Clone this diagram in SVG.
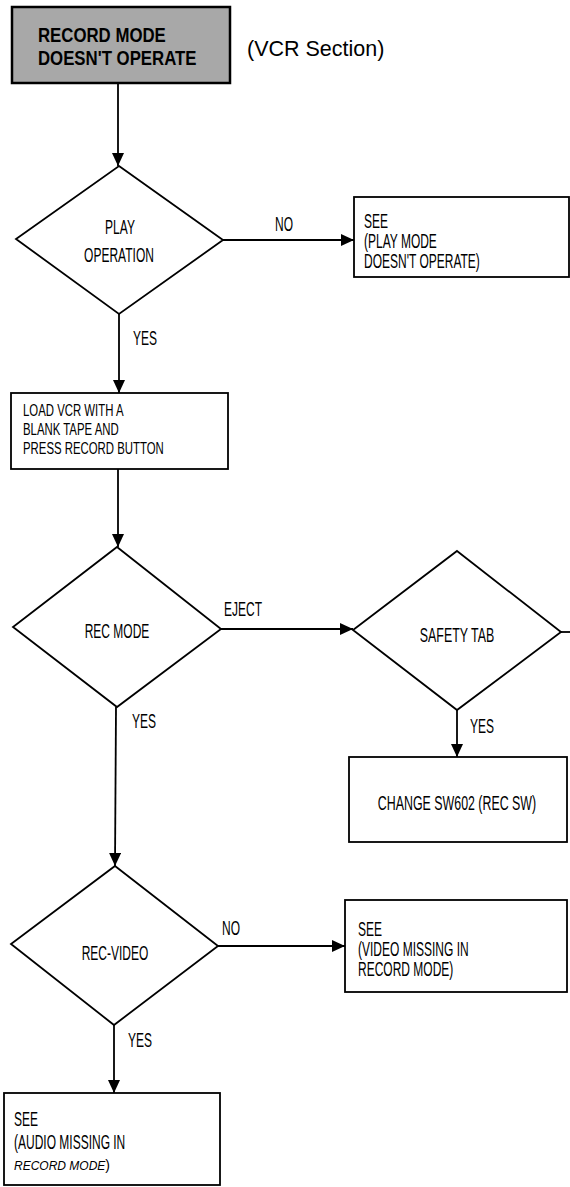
<svg xmlns="http://www.w3.org/2000/svg" width="570" height="1187" viewBox="0 0 570 1187">
<style>
.shape{fill:#fff;stroke:#000;stroke-width:1.8}
.title{fill:#a8a8a8;stroke:#000;stroke-width:2.5}
.t{font-family:"Liberation Sans",Arial,sans-serif;font-size:20px;fill:#000}
.ts{font-family:"Liberation Sans",Arial,sans-serif;font-size:17px;fill:#000}
.tb{font-family:"Liberation Sans",Arial,sans-serif;font-size:21px;font-weight:bold;fill:#000}
.ti{font-family:"Liberation Sans",Arial,sans-serif;font-size:12px;font-style:italic;fill:#000}
.sec{font-family:"Liberation Sans",Arial,sans-serif;font-size:21.5px;fill:#000}
.c{text-anchor:middle}
.conn{fill:none;stroke:#000;stroke-width:1.8}
</style>
<defs>
<marker id="arr" markerUnits="userSpaceOnUse" markerWidth="14" markerHeight="12" refX="13" refY="6" orient="auto">
<path d="M0,0 L13,6 L0,12 Z" fill="#000"/>
</marker>
</defs>
<g id="connectors">
<path class="conn" d="M118,83 V166" marker-end="url(#arr)"/>
<path class="conn" d="M223,240 H354" marker-end="url(#arr)"/>
<path class="conn" d="M119,314 V393" marker-end="url(#arr)"/>
<path class="conn" d="M118,469 V547" marker-end="url(#arr)"/>
<path class="conn" d="M221,629 H353" marker-end="url(#arr)"/>
<path class="conn" d="M457,710 V757" marker-end="url(#arr)"/>
<path class="conn" d="M561,632 H570"/>
<path class="conn" d="M116,707 L115,866" marker-end="url(#arr)"/>
<path class="conn" d="M218,946 H345" marker-end="url(#arr)"/>
<path class="conn" d="M114,1025 V1093" marker-end="url(#arr)"/>
<text class="t" transform="translate(275,231) scale(0.6,1)">NO</text>
<text class="t" transform="translate(133,345) scale(0.6,1)">YES</text>
<text class="t" transform="translate(224,616) scale(0.6,1)">EJECT</text>
<text class="t" transform="translate(132,728) scale(0.6,1)">YES</text>
<text class="t" transform="translate(470,733) scale(0.6,1)">YES</text>
<text class="t" transform="translate(222,935) scale(0.6,1)">NO</text>
<text class="t" transform="translate(128,1047) scale(0.6,1)">YES</text>
</g>
<g id="start">
<rect class="title" x="12" y="7" width="218" height="76"/>
<text class="tb" transform="translate(38,42) scale(0.8,1)">RECORD MODE</text>
<text class="tb" transform="translate(38,65) scale(0.8,1)">DOESN'T OPERATE</text>
</g>
<g id="section-label">
<text class="sec" x="247" y="56">(VCR Section)</text>
</g>
<g id="play-operation">
<polygon class="shape" points="119,166 223,240 119,314 16,239"/>
<text class="t c" transform="translate(120,234) scale(0.6,1)">PLAY</text>
<text class="t c" transform="translate(119,262) scale(0.6,1)">OPERATION</text>
</g>
<g id="see-play-mode">
<rect class="shape" x="354" y="197" width="215" height="80"/>
<text class="t" transform="translate(364,228) scale(0.6,1)">SEE</text>
<text class="t" transform="translate(364,248) scale(0.6,1)">(PLAY MODE</text>
<text class="t" transform="translate(364,268) scale(0.6,1)">DOESN'T OPERATE)</text>
</g>
<g id="load-vcr">
<rect class="shape" x="11" y="393" width="217" height="76"/>
<text class="ts" transform="translate(23,416) scale(0.67,1)">LOAD VCR WITH A</text>
<text class="ts" transform="translate(23,435) scale(0.67,1)">BLANK TAPE AND</text>
<text class="ts" transform="translate(23,454) scale(0.67,1)">PRESS RECORD BUTTON</text>
</g>
<g id="rec-mode">
<polygon class="shape" points="117,547 221,629 117,707 13,627"/>
<text class="t c" transform="translate(117,638) scale(0.6,1)">REC MODE</text>
</g>
<g id="safety-tab">
<polygon class="shape" points="457,551 561,632 457,710 353,630"/>
<text class="t c" transform="translate(457,642) scale(0.62,1)">SAFETY TAB</text>
</g>
<g id="change-sw602">
<rect class="shape" x="349" y="757" width="218" height="85"/>
<text class="t c" transform="translate(457,810) scale(0.62,1)">CHANGE SW602 (REC SW)</text>
</g>
<g id="rec-video">
<polygon class="shape" points="115,866 218,946 114,1025 11,944"/>
<text class="t c" transform="translate(115,960) scale(0.6,1)">REC-VIDEO</text>
</g>
<g id="see-video-missing">
<rect class="shape" x="345" y="900" width="222" height="92"/>
<text class="t" transform="translate(358,936) scale(0.6,1)">SEE</text>
<text class="t" transform="translate(358,956) scale(0.6,1)">(VIDEO MISSING IN</text>
<text class="t" transform="translate(358,976) scale(0.6,1)">RECORD MODE)</text>
</g>
<g id="see-audio-missing">
<rect class="shape" x="4" y="1093" width="216" height="92"/>
<text class="t" transform="translate(14,1126) scale(0.6,1)">SEE</text>
<text class="t" transform="translate(14,1149) scale(0.6,1)">(AUDIO MISSING IN</text>
<text class="ti" x="14" y="1170">RECORD MODE<tspan font-style="normal" font-size="14">)</tspan></text>
</g>
</svg>
